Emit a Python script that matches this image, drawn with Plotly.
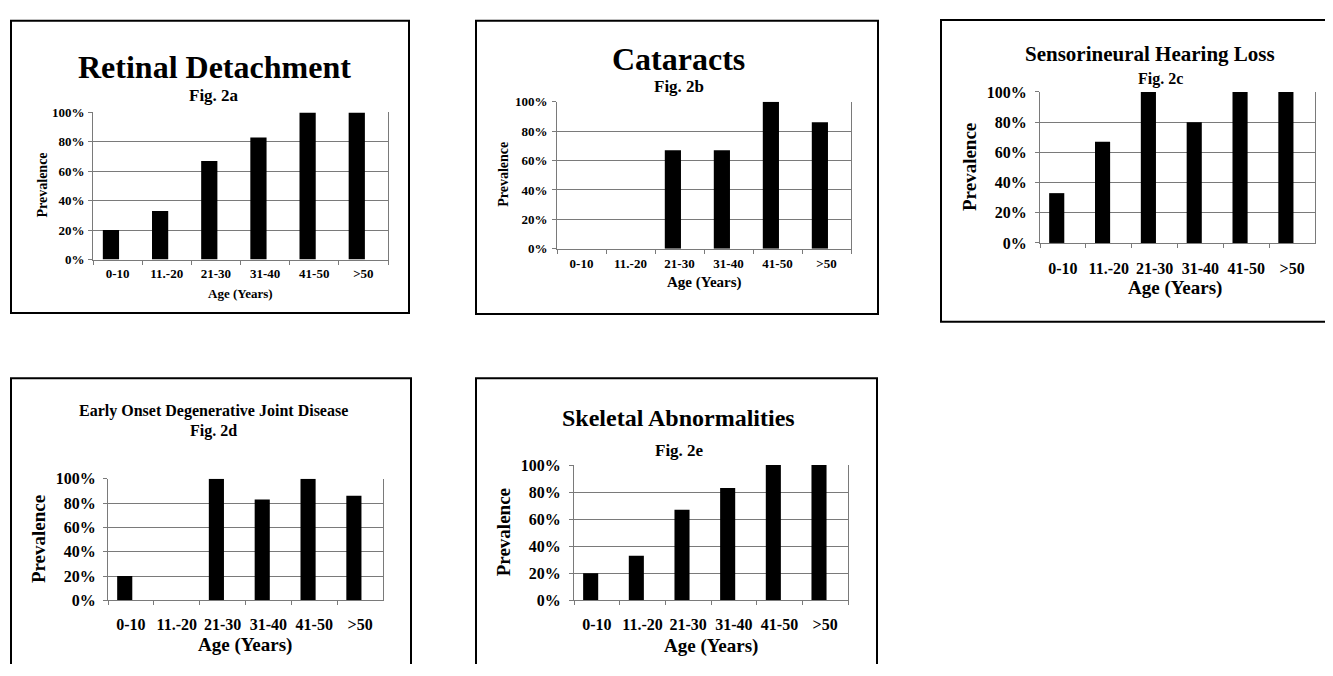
import plotly.graph_objects as go

# page has a default 8px body margin; keep figure inside the window
PAGE_W, PAGE_H = 1333, 676
OFF = 8
W, H = PAGE_W - 2 * OFF, PAGE_H - 2 * OFF - 4

age_groups = ["0-10", "11.-20", "21-30", "31-40", "41-50", ">50"]
retinal_detachment = [20, 33, 67, 83, 100, 100]
cataracts = [0, 0, 67, 67, 100, 86]
hearing_loss = [33, 67, 100, 80, 100, 100]
joint_disease = [20, 0, 100, 83, 100, 86]
skeletal = [20, 33, 67, 83, 100, 100]
y_ticks = [0, 20, 40, 60, 80, 100]
y_tick_labels = ["0%", "20%", "40%", "60%", "80%", "100%"]

titles = ["Retinal Detachment", "Cataracts", "Sensorineural Hearing Loss",
          "Early Onset Degenerative Joint Disease", "Skeletal Abnormalities"]
fig_labels = ["Fig. 2a", "Fig. 2b", "Fig. 2c", "Fig. 2d", "Fig. 2e"]
series = [retinal_detachment, cataracts, hearing_loss, joint_disease, skeletal]

FONT = "Liberation Serif, Times New Roman, serif"
AXIS_GREY = "#7a7a7a"

# pixel layout per panel (page coordinates)
panels = [
    dict(plot=(93, 388, 107, 258), box=(11, 409, 13, 313),
         title=(214, 60, 32), fig=(214, 90, 17), ytitle=(42, 182, 14), xtitle=(240, 293, 13),
         tick=13, xtick=13, xstand=2, ystand=1),
    dict(plot=(557, 851, 96, 247), box=(476, 878, 13, 314),
         title=(678, 52, 32), fig=(679, 80, 17), ytitle=(504, 171, 14), xtitle=(705, 282, 15),
         tick=13, xtick=13, xstand=3, ystand=2),
    dict(plot=(1040, 1315, 86, 241), box=(941, 1345, 12, 322),
         title=(1150, 47, 21), fig=(1160, 73, 16), ytitle=(970, 163, 19), xtitle=(1175, 287, 19),
         tick=16, xtick=16, xstand=11, ystand=5),
    dict(plot=(108, 383, 483, 608), box=(11, 411, 380, 700),
         title=(213, 414, 16), fig=(213, 434, 16), ytitle=(38, 545, 19), xtitle=(245, 654, 19),
         tick=16, xtick=16, xstand=9, ystand=4),
    dict(plot=(574, 848, 469, 608), box=(476, 877, 380, 700),
         title=(678, 421, 24), fig=(679, 454, 17), ytitle=(503, 538, 19), xtitle=(711, 655, 19),
         tick=16, xtick=16, xstand=9, ystand=5),
]

def px(x):
    return (x - OFF) / W

def py(y):
    return 1 - (y - OFF) / H

fig = go.Figure()
annotations = []
shapes = []

for i, (p, vals) in enumerate(zip(panels, series)):
    n = "" if i == 0 else str(i + 1)
    x0, x1, y0, y1 = p["plot"]
    fig.add_trace(go.Bar(
        x=age_groups, y=vals, marker=dict(color="black", line=dict(width=0)),
        width=0.33, offset=-0.3,
        xaxis="x" + n, yaxis="y" + n, showlegend=False, hoverinfo="x+y"))
    fig.layout["xaxis" + n] = dict(
        domain=[px(x0), px(x1)], anchor="y" + n, type="category",
        showgrid=False, showline=True, linecolor=AXIS_GREY, linewidth=1,
        ticks="outside", ticklen=4, tickcolor=AXIS_GREY, tickson="boundaries",
        tickangle=0, ticklabelstandoff=p["xstand"],
        tickfont=dict(family=FONT, size=p["xtick"], color="black", weight="bold"),
        fixedrange=True)
    fig.layout["yaxis" + n] = dict(
        domain=[py(y1), py(y0)], anchor="x" + n, range=[0, 100],
        tickmode="array", tickvals=y_ticks, ticktext=y_tick_labels,
        showgrid=True, gridcolor=AXIS_GREY, gridwidth=1,
        showline=True, linecolor=AXIS_GREY, linewidth=1, mirror=True,
        ticks="outside", ticklen=4, tickcolor=AXIS_GREY,
        ticklabelstandoff=p["ystand"],
        zeroline=False,
        tickfont=dict(family=FONT, size=p["tick"], color="black", weight="bold"),
        fixedrange=True)
    bx0, bx1, by0, by1 = p["box"]
    shapes.append(dict(type="rect", xref="paper", yref="paper",
                       x0=px(bx0), x1=px(bx1), y0=py(by1), y1=py(by0),
                       line=dict(color="black", width=2), fillcolor="rgba(0,0,0,0)"))
    tx, ty, ts = p["title"]
    annotations.append(dict(text=titles[i], x=px(tx), y=py(ty), xref="paper", yref="paper",
                            showarrow=False, xanchor="center", yanchor="middle",
                            font=dict(family=FONT, size=ts, color="black", weight="bold")))
    fx, fy, fs = p["fig"]
    annotations.append(dict(text=fig_labels[i], x=px(fx), y=py(fy), xref="paper", yref="paper",
                            showarrow=False, xanchor="center", yanchor="middle",
                            font=dict(family=FONT, size=fs, color="black", weight="bold")))
    yx, yy, ys = p["ytitle"]
    annotations.append(dict(text="Prevalence", x=px(yx), y=py(yy), xref="paper", yref="paper",
                            showarrow=False, xanchor="center", yanchor="middle", textangle=-90,
                            font=dict(family=FONT, size=ys, color="black", weight="bold")))
    ax_, ay_, as_ = p["xtitle"]
    annotations.append(dict(text="Age (Years)", x=px(ax_), y=py(ay_), xref="paper", yref="paper",
                            showarrow=False, xanchor="center", yanchor="middle",
                            font=dict(family=FONT, size=as_, color="black", weight="bold")))

fig.update_layout(
    width=W, height=H, margin=dict(l=0, r=0, t=0, b=0),
    paper_bgcolor="white", plot_bgcolor="white",
    annotations=annotations, shapes=shapes, showlegend=False,
    bargap=0.67,
)

fig.write_html("out.html")
